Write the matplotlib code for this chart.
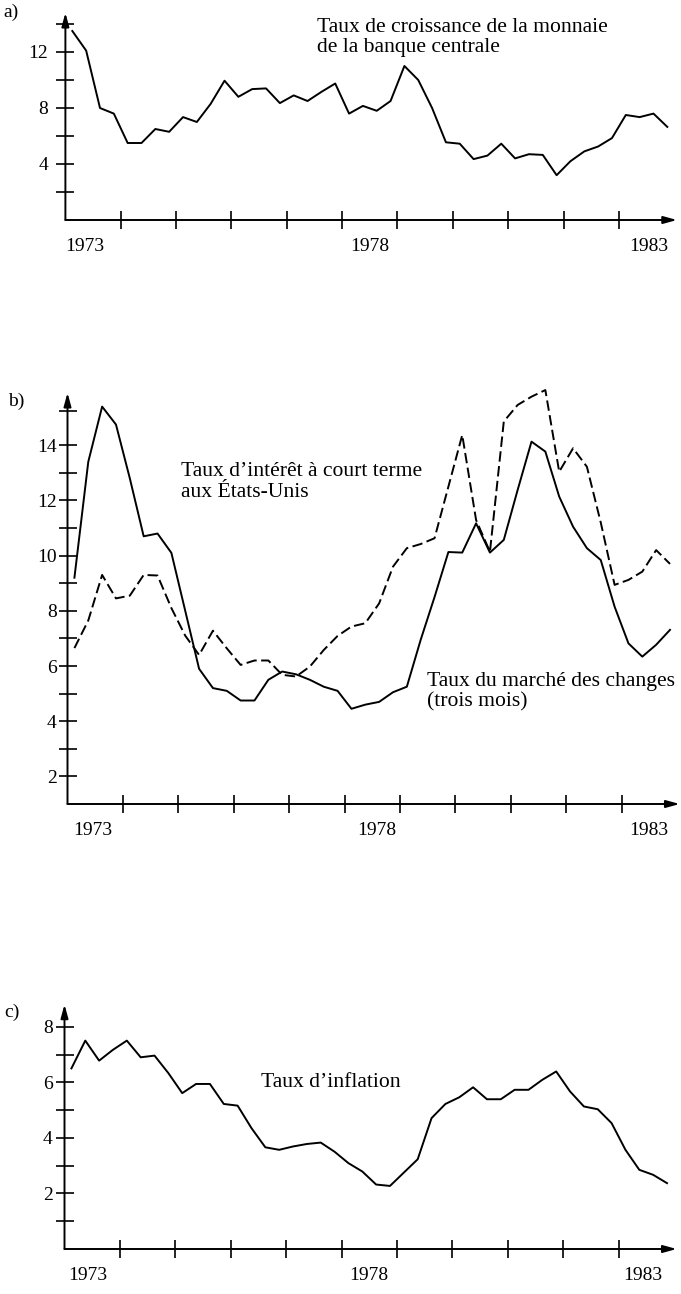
import matplotlib.pyplot as plt
import numpy as np

plt.rcParams["font.family"] = ["Liberation Serif", "DejaVu Serif"]
plt.rcParams["lines.scale_dashes"] = False

W, H = 681, 1294  # taille en pixels (dpi 100)

# ── Données trimestrielles 1973 T1 – 1983 T4 ──────────────────────────────────
trimestres = 1973 + (np.arange(44) + 0.5) / 4

monnaie_bc = [13.5, 12.1, 8.0, 7.6, 5.5, 5.5, 6.5, 6.3, 7.35, 7.0, 8.3, 9.95,
              8.8, 9.35, 9.4, 8.35, 8.9, 8.5, 9.15, 9.75, 7.6, 8.15, 7.8, 8.5,
              11.0, 10.0, 8.0, 5.55, 5.45, 4.35, 4.6, 5.45, 4.4, 4.7, 4.65, 3.2,
              4.2, 4.9, 5.25, 5.85, 7.5, 7.35, 7.6, 6.65]

taux_changes = [9.2, 13.4, 15.4, 14.75, 12.8, 10.7, 10.8, 10.1, 8.0, 5.9, 5.2, 5.1,
                4.75, 4.75, 5.5, 5.8, 5.7, 5.5, 5.25, 5.1, 4.45, 4.6, 4.7, 5.05,
                5.25, 6.95, 8.5, 10.13, 10.11, 11.17, 10.11, 10.57, 12.38, 14.13,
                13.77, 12.14, 11.05, 10.27, 9.84, 8.15, 6.82, 6.34, 6.77, 7.31]

taux_us = [6.65, 7.65, 9.3, 8.45, 8.55, 9.3, 9.28, 8.1, 7.1, 6.4, 7.28, 6.64,
           6.04, 6.2, 6.2, 5.68, 5.62, 5.98, 6.58, 7.09, 7.43, 7.55, 8.27, 9.6,
           10.27, 10.42, 10.63, 12.5, 14.37, 11.29, 10.14, 14.86, 15.46, 15.76,
           16.0, 13.04, 13.89, 13.22, 11.2, 8.94, 9.12, 9.42, 10.2, 9.7]

inflation = [6.5, 7.5, 6.78, 7.17, 7.5, 6.9, 6.96, 6.33, 5.61, 5.94, 5.94, 5.22,
             5.16, 4.35, 3.66, 3.57, 3.69, 3.78, 3.83, 3.5, 3.09, 2.79, 2.32, 2.27,
             2.75, 3.23, 4.71, 5.22, 5.46, 5.82, 5.39, 5.39, 5.73, 5.73, 6.09, 6.39,
             5.67, 5.13, 5.03, 4.53, 3.57, 2.85, 2.67, 2.37]

annees_ticks = list(range(1974, 1984))
annees_labels = ["1973", "1978", "1983"]

FS = 14      # étiquettes des axes
FS_TXT = 15.6  # annotations
LW = 1.4


def rect(gauche, droite, bas, haut):
    return [gauche / W, 1 - bas / H, (droite - gauche) / W, (bas - haut) / H]


def style_axes(ax, ylim, ymaj, ymin, xlab_pos, ypad):
    ax.set_xlim(1973, 1984.05)
    ax.set_ylim(*ylim)
    for s in ax.spines.values():
        s.set_visible(False)
    fl = dict(arrowstyle="-|>,head_length=0.8,head_width=0.22", lw=LW,
              color="black", shrinkA=0, shrinkB=0)
    ax.annotate("", xy=(1, 0), xytext=(0, 0), xycoords="axes fraction", arrowprops=fl)
    ax.annotate("", xy=(0, 1), xytext=(0, 0), xycoords="axes fraction", arrowprops=fl)

    ax.set_xticks(xlab_pos, labels=annees_labels)
    ax.set_xticks(annees_ticks, minor=True)
    ax.tick_params(axis="x", which="major", length=0, pad=13, labelsize=FS)
    ax.tick_params(axis="x", which="minor", direction="inout", length=13.5, width=1.2)

    ax.set_yticks(ymaj, labels=[str(v) for v in ymaj])
    ax.set_yticks(ymin, minor=True)
    ax.tick_params(axis="y", which="both", direction="inout", length=13.5,
                   width=1.2, labelsize=FS, pad=ypad)


fig = plt.figure(figsize=(W / 100, H / 100), dpi=100)

# ── a) monnaie de la banque centrale ──────────────────────────────────────────
ax_a = fig.add_axes(rect(65.4, 677, 220, 12.8))
style_axes(ax_a, (0, 14.8), [4, 8, 12], [2, 6, 10, 14], [1973.35, 1978.5, 1983.54], 5.5)
ax_a.plot(trimestres, monnaie_bc, color="black", lw=LW, clip_on=False)
ax_a.text(1977.55, 13.45, "Taux de croissance de la monnaie", fontsize=FS_TXT, va="baseline")
ax_a.text(1977.55, 11.98, "de la banque centrale", fontsize=FS_TXT, va="baseline")

# ── b) taux d'intérêt ─────────────────────────────────────────────────────────
ax_b = fig.add_axes(rect(67.5, 679.7, 804, 392.8))
style_axes(ax_b, (1, 15.9), [2, 4, 6, 8, 10, 12, 14], [3, 5, 7, 9, 11, 13, 15.25],
           [1973.46, 1978.58, 1983.5], 1.0)
ax_b.plot(trimestres, taux_changes, color="black", lw=LW, clip_on=False)
ax_b.plot(trimestres, taux_us, color="black", lw=LW, dashes=(7.5, 3.2), clip_on=False)
ax_b.text(1975.05, 12.87, "Taux d\u2019intérêt à court terme", fontsize=FS_TXT, va="baseline")
ax_b.text(1975.05, 12.12, "aux États-Unis", fontsize=FS_TXT, va="baseline")
ax_b.text(1979.48, 5.28, "Taux du marché des changes", fontsize=FS_TXT, va="baseline")
ax_b.text(1979.48, 4.53, "(trois mois)", fontsize=FS_TXT, va="baseline")

# ── c) inflation ──────────────────────────────────────────────────────────────
ax_c = fig.add_axes(rect(64.5, 676.7, 1249, 1004.5))
style_axes(ax_c, (0, 8.8), [2, 4, 6, 8], [1, 3, 5, 7], [1973.42, 1978.5, 1983.44], 1.8)
ax_c.plot(trimestres, inflation, color="black", lw=LW, clip_on=False)
ax_c.text(1976.55, 5.84, "Taux d\u2019inflation", fontsize=FS_TXT, va="baseline")

# étiquettes des panneaux
for lab, (px, py) in {"a)": (10.5, 12.5), "b)": (16, 401), "c)": (12, 1012)}.items():
    fig.text(px / W, 1 - py / H, lab, fontsize=FS, ha="center", va="center")

fig.savefig("out.png", dpi=100)
